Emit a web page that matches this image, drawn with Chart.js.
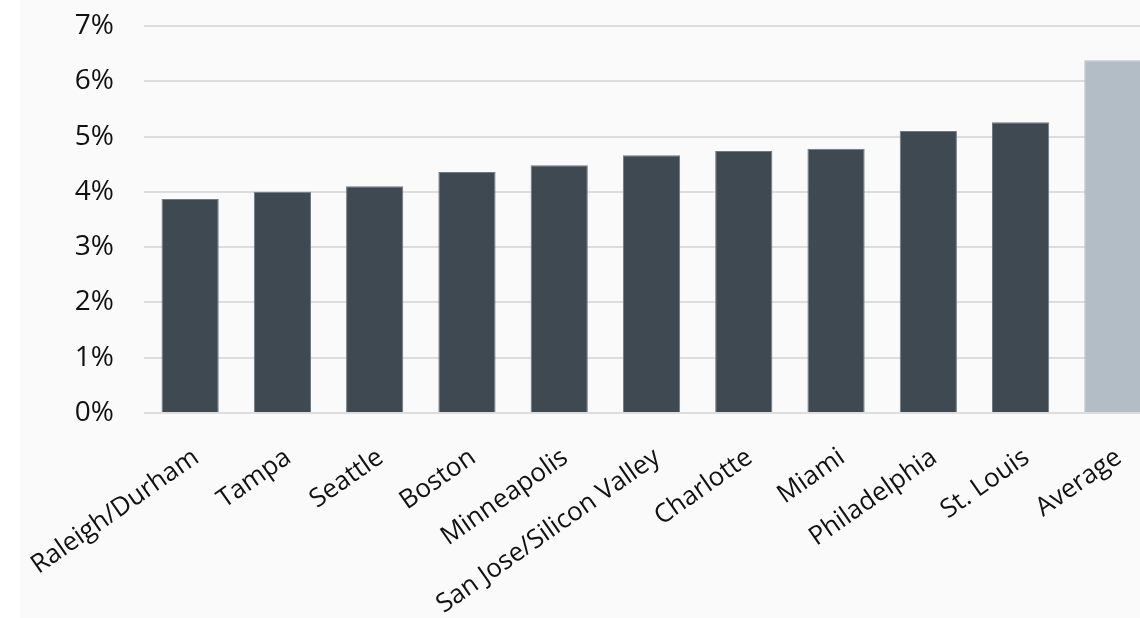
<html>
<head>
    <meta charset="UTF-8">
    <title>Cities</title>
    <script src="https://cdn.jsdelivr.net/npm/chart.js"></script>
    <style>
        html, body {
            margin: 0;
            background-color: #ffffff;
            overflow: hidden;
        }
        #box {
            position: absolute;
            left: 20px;
            top: 0;
            width: 1140px;
            height: 618px;
            background-color: #fafafa;
        }
    </style>
</head>

<body>
    <div id="box">
        <canvas id="myChart"></canvas>
    </div>

    <script>
        const labels = [
            'Raleigh/Durham',
            'Tampa',
            'Seattle',
            'Boston',
            'Minneapolis',
            'San Jose/Silicon Valley',
            'Charlotte',
            'Miami',
            'Philadelphia',
            'St. Louis',
            'Average'
        ];
        const values = [3.87, 4.00, 4.10, 4.36, 4.48, 4.66, 4.74, 4.78, 5.10, 5.26, 6.38];
        const yTicks = [0, 1, 2, 3, 4, 5, 6, 7];

        // the last bar (Average) is drawn in a lighter grey
        const fill = labels.map(l => l === 'Average' ? '#b3bdc6' : '#3f4952');
        const edge = labels.map(l => l === 'Average' ? '#b3bdc6' : '#6f7982');

        const data = {
            labels: labels,
            datasets: [{
                data: values,
                backgroundColor: fill,
                borderColor: edge,
                borderWidth: 1,
                borderSkipped: 'bottom',
                categoryPercentage: 1,
                barPercentage: 0.62
            }]
        };

        const config = {
            type: 'bar',
            data: data,
            options: {
                responsive: true,
                maintainAspectRatio: false,
                animation: false,
                layout: {
                    padding: { top: 26, right: 1, left: 0, bottom: 0 }
                },
                plugins: {
                    legend: { display: false },
                    tooltip: { enabled: false }
                },
                scales: {
                    x: {
                        grid: { display: false },
                        border: { display: false },
                        ticks: {
                            color: '#111111',
                            font: { family: 'Open Sans', size: 26 },
                            minRotation: 35,
                            maxRotation: 35,
                            autoSkip: false,
                            padding: 21,
                            labelOffset: 6
                        },
                        afterFit: s => {
                            s.height = 205;
                            s.paddingLeft = 0;
                            s.paddingRight = 0;
                        }
                    },
                    y: {
                        min: 0,
                        max: 7,
                        afterBuildTicks: s => { s.ticks = yTicks.map(v => ({ value: v })); },
                        grid: { color: '#dddddd', lineWidth: 2, drawTicks: false },
                        border: { display: false },
                        ticks: {
                            color: '#111111',
                            font: { family: 'Open Sans', size: 28 },
                            padding: 30,
                            callback: v => v + '%'
                        },
                        afterFit: s => {
                            s.width = 124;
                            s.paddingTop = 0;
                            s.paddingBottom = 0;
                        }
                    }
                }
            }
        };

        var myChart = new Chart(
            document.getElementById('myChart'),
            config
        );
    </script>
</body>
</html>
